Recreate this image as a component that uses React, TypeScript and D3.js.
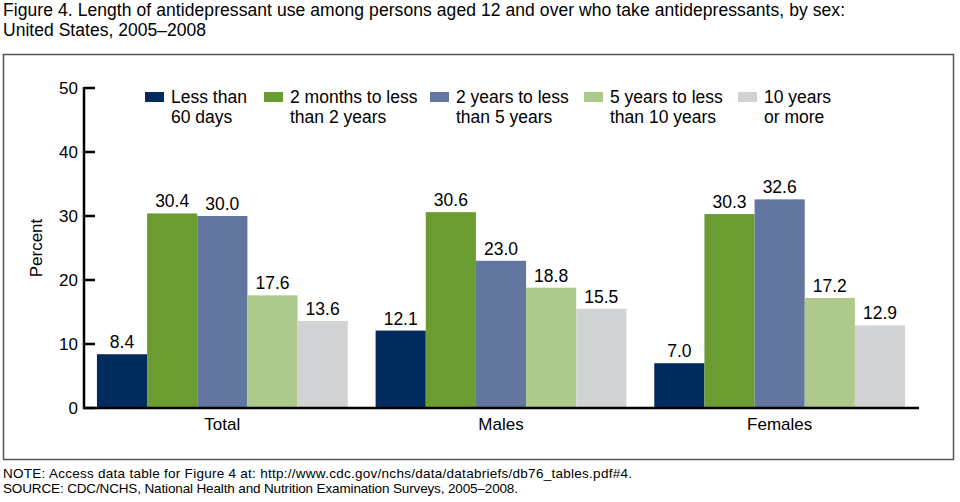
import React from "react";
import * as d3 from "d3";

const groups = ["Total", "Males", "Females"];
const seriesNames = [
  ["Less than", "60 days"],
  ["2 months to less", "than 2 years"],
  ["2 years to less", "than 5 years"],
  ["5 years to less", "than 10 years"],
  ["10 years", "or more"],
];
const seriesColors = ["#002b5c", "#6a9c31", "#62769f", "#adc98b", "#d0d2d4"];
const totalValues = [8.4, 30.4, 30.0, 17.6, 13.6];
const maleValues = [12.1, 30.6, 23.0, 18.8, 15.5];
const femaleValues = [7.0, 30.3, 32.6, 17.2, 12.9];
const yTicks = [0, 10, 20, 30, 40, 50];
const legendX = [145, 264, 430, 584, 738];

const dataRows = [totalValues, maleValues, femaleValues];
const FONT = "'Liberation Sans', Arial, sans-serif";

export default function App() {
  const W = 960, H = 502;
  const x0 = d3.scaleBand().domain(groups).range([83, 919]).paddingInner(0.1).paddingOuter(0.05);
  const x1 = d3.scaleBand().domain(d3.range(5).map(String)).range([0, x0.bandwidth()]);
  const y = d3.scaleLinear().domain([0, 50]).range([408, 88]);

  return (
    <svg width={W} height={H} style={{ position: "absolute", left: 0, top: 0 }} fontFamily={FONT}>
      <rect width={W} height={H} fill="#fff" />
      <text x={3} y={16} fontSize={17.5} fill="#000" textLength={842} lengthAdjust="spacing">
        Figure 4. Length of antidepressant use among persons aged 12 and over who take antidepressants, by sex:
      </text>
      <text x={3} y={36} fontSize={17.5} fill="#000" textLength={203} lengthAdjust="spacing">United States, 2005–2008</text>
      <rect x={3.5} y={54.5} width={950} height={405} fill="none" stroke="#555" strokeWidth={1.5} />

      {/* legend */}
      {seriesNames.map((lines, i) => (
        <g key={i}>
          <rect x={legendX[i]} y={92} width={19} height={10} fill={seriesColors[i]} />
          <text x={legendX[i] + 26} y={102.5} fontSize={17.5}>{lines[0]}</text>
          <text x={legendX[i] + 26} y={122.5} fontSize={17.5}>{lines[1]}</text>
        </g>
      ))}

      {/* bars */}
      {groups.map((g, gi) => (
        <g key={g} transform={`translate(${x0(g)},0)`}>
          {dataRows[gi].map((v, i) => (
            <g key={i}>
              <rect x={x1(String(i))} y={y(v)} width={x1.bandwidth()} height={y(0) - y(v)} fill={seriesColors[i]} />
              <text x={(x1(String(i)) as number) + x1.bandwidth() / 2} y={y(v) - 6} fontSize={17.5} textAnchor="middle">
                {v.toFixed(1)}
              </text>
            </g>
          ))}
          <text x={x0.bandwidth() / 2} y={430} fontSize={17} textAnchor="middle">{g}</text>
        </g>
      ))}

      {/* y axis */}
      <line x1={84} x2={84} y1={87} y2={409} stroke="#000" strokeWidth={2.5} />
      {yTicks.map((t) => (
        <g key={t}>
          <line x1={84} x2={95} y1={y(t)} y2={y(t)} stroke="#000" strokeWidth={2.5} />
          <text x={78} y={y(t)} dy="0.35em" fontSize={17} textAnchor="end">{t}</text>
        </g>
      ))}
      <line x1={83} x2={919} y1={408} y2={408} stroke="#000" strokeWidth={2.5} />
      <text transform={`translate(42,${y(25)}) rotate(-90)`} fontSize={17} textAnchor="middle">Percent</text>

      <text x={3} y={478} fontSize={13.5} textLength={629} lengthAdjust="spacing">
        NOTE: Access data table for Figure 4 at: http://www.cdc.gov/nchs/data/databriefs/db76_tables.pdf#4.
      </text>
      <text x={3} y={493} fontSize={13.5} textLength={515} lengthAdjust="spacing">
        SOURCE: CDC/NCHS, National Health and Nutrition Examination Surveys, 2005–2008.
      </text>
    </svg>
  );
}
